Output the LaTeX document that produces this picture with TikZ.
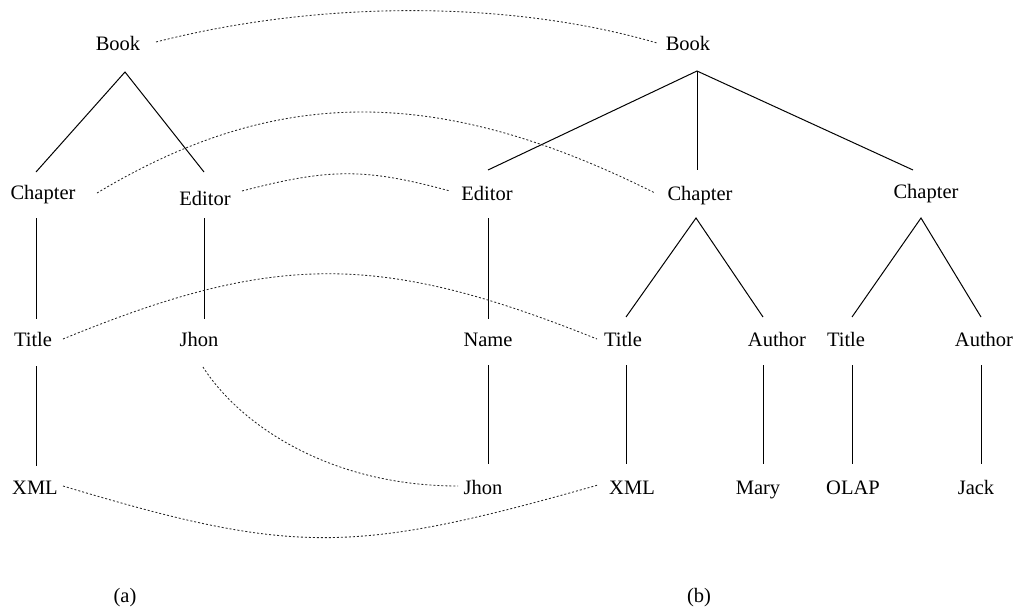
\documentclass[tikz,border=0pt]{standalone}
\usepackage{fontspec}
\setmainfont{Liberation Serif}
\begin{document}
\begin{tikzpicture}[x=1pt,y=-1pt,
  lbl/.style={anchor=base,inner sep=0pt,font=\fontsize{20.5}{24}\selectfont},
  edge/.style={line width=1pt},
  match/.style={line width=0.85pt,black!85,dash pattern=on 2pt off 2pt}]
\useasboundingbox (0,0) rectangle (1018,608);

% ---- tree (a) ----
\node[lbl] (bookA)  at (118,50)  {Book};
\node[lbl] (chapA)  at (43,199)  {Chapter};
\node[lbl] (editA)  at (205,205) {Editor};
\node[lbl] (titleA) at (33,346)  {Title};
\node[lbl] (jhonA)  at (199,346) {Jhon};
\node[lbl] (xmlA)   at (35,494)  {XML};
\node[lbl] (capA)   at (125,602) {(a)};

% ---- tree (b) ----
\node[lbl] (bookB)   at (688,50)  {Book};
\node[lbl] (editB)   at (487,200) {Editor};
\node[lbl] (chapB)   at (700,200) {Chapter};
\node[lbl] (chapC)   at (926,198) {Chapter};
\node[lbl] (nameB)   at (488,346) {Name};
\node[lbl] (titleB)  at (623,346) {Title};
\node[lbl] (authB)   at (777,346) {Author};
\node[lbl] (titleC)  at (846,346) {Title};
\node[lbl] (authC)   at (984,346) {Author};
\node[lbl] (jhonB)   at (483,494) {Jhon};
\node[lbl] (xmlB)    at (632,494) {XML};
\node[lbl] (maryC)   at (758,494) {Mary};
\node[lbl] (olapC)   at (853,494) {OLAP};
\node[lbl] (jackC)   at (976,494) {Jack};
\node[lbl] (capB)    at (699,602) {(b)};

% ---- attachment points of the tree edges ----
\coordinate (bookA-b)  at (125,72);
\coordinate (chapA-t)  at (36,172);
\coordinate (chapA-b)  at (36,218);
\coordinate (editA-t)  at (204,172);
\coordinate (editA-b)  at (204,218);
\coordinate (titleA-t) at (36,319);
\coordinate (titleA-b) at (36,366);
\coordinate (jhonA-t)  at (204,319);
\coordinate (xmlA-t)   at (36,466);

\coordinate (bookB-b)  at (697,71);
\coordinate (editB-t)  at (488,170);
\coordinate (editB-b)  at (488,218);
\coordinate (chapB-t)  at (697,170);
\coordinate (chapB-b)  at (696,218);
\coordinate (chapC-t)  at (913,170);
\coordinate (chapC-b)  at (921,218);
\coordinate (nameB-t)  at (488,319);
\coordinate (nameB-b)  at (488,365);
\coordinate (jhonB-t)  at (488,464);
\coordinate (titleB-t) at (626,317);
\coordinate (titleB-b) at (626,365);
\coordinate (xmlB-t)   at (626,464);
\coordinate (authB-t)  at (763,317);
\coordinate (authB-b)  at (763,365);
\coordinate (maryC-t)  at (763,464);
\coordinate (titleC-t) at (852,317);
\coordinate (titleC-b) at (852,365);
\coordinate (olapC-t)  at (852,464);
\coordinate (authC-t)  at (981,317);
\coordinate (authC-b)  at (981,365);
\coordinate (jackC-t)  at (981,464);

% ---- tree edges (a) ----
\draw[edge] (chapA-t) -- (bookA-b) -- (editA-t);
\draw[edge] (chapA-b) -- (titleA-t);
\draw[edge] (titleA-b) -- (xmlA-t);
\draw[edge] (editA-b) -- (jhonA-t);

% ---- tree edges (b) ----
\draw[edge] (editB-t) -- (bookB-b) -- (chapC-t);
\draw[edge] (bookB-b) -- (chapB-t);
\draw[edge] (editB-b) -- (nameB-t);
\draw[edge] (nameB-b) -- (jhonB-t);
\draw[edge] (titleB-t) -- (chapB-b) -- (authB-t);
\draw[edge] (titleB-b) -- (xmlB-t);
\draw[edge] (authB-b) -- (maryC-t);
\draw[edge] (titleC-t) -- (chapC-b) -- (authC-t);
\draw[edge] (titleC-b) -- (olapC-t);
\draw[edge] (authC-b) -- (jackC-t);

% ---- ends of the matching curves ----
\coordinate (bookA-r)  at (156,42);
\coordinate (bookB-l)  at (657,43);
\coordinate (chapA-r)  at (97,193);
\coordinate (chapB-l)  at (655,193);
\coordinate (editA-r)  at (242,191);
\coordinate (editB-l)  at (450,191);
\coordinate (titleA-r) at (63,339);
\coordinate (titleB-l) at (597,339);
\coordinate (jhonA-b)  at (203,367);
\coordinate (jhonB-l)  at (458,486);
\coordinate (xmlA-r)   at (63,486);
\coordinate (xmlB-l)   at (598,485);

% ---- matching curves between the two trees ----
\draw[match] (bookA-r) .. controls (320,0) and (510,0) .. (bookB-l);
\draw[match] (chapA-r) .. controls (277,85) and (439,85) .. (chapB-l);
\draw[match] (editA-r) .. controls (330,168) and (365,168) .. (editB-l);
\draw[match] (titleA-r) .. controls (275,252) and (380,252) .. (titleB-l);
\draw[match] (jhonA-b) .. controls (240,425) and (330,486) .. (jhonB-l);
\draw[match] (xmlA-r) .. controls (293,555) and (352,555) .. (xmlB-l);
\end{tikzpicture}
\end{document}
